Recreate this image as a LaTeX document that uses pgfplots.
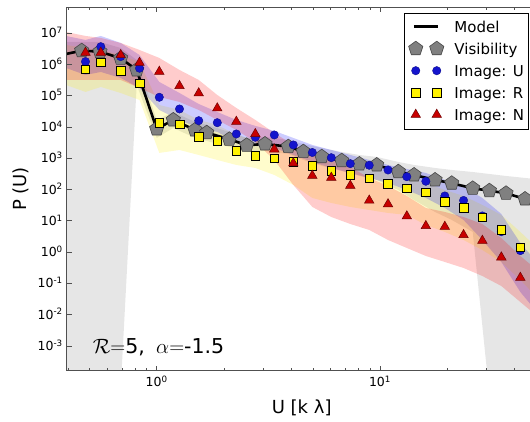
\documentclass[border=0pt]{standalone}
\usepackage{fontspec}
\setmainfont{DejaVu Sans}
\usepackage{pgfplots}
\pgfplotsset{compat=1.18}
\usepackage{pgfplotstable}
\usepgfplotslibrary{fillbetween}

\definecolor{visgray}{RGB}{128,128,128}
\definecolor{visedge}{RGB}{70,70,70}
\definecolor{udot}{RGB}{20,20,205}
\definecolor{ntri}{RGB}{200,0,0}
\definecolor{ntriedge}{RGB}{110,0,0}
\definecolor{spine}{RGB}{80,80,80}

% Visibility power spectrum: U [k lambda], model, measured points, band limits
\pgfplotstableread{
U      M      V      lo      hi
0.3845 2.10e6 nan    2.8e-5  5.27e6
0.4614 2.78e6 2.78e6 2.8e-5  5.27e6
0.5574 2.58e6 2.58e6 2.8e-5  5.27e6
0.6899 1.58e6 1.58e6 4.3e-5  3.39e6
0.8137 6.70e5 6.70e5 2.22e5  1.40e6
1.000  8.71e3 8.71e3 4.49e3  1.69e4
1.1866 1.69e4 1.69e4 9.37e3  3.04e4
1.4838 8.09e3 8.09e3 4.49e3  1.46e4
1.6744 6.62e3 6.62e3 3.60e3  1.17e4
2.1138 4.07e3 4.07e3 2.31e3  6.98e3
2.5293 2.62e3 2.62e3 1.60e3  4.49e3
3.0549 2.88e3 2.88e3 1.72e3  4.83e3
3.8860 2.37e3 2.37e3 1.38e3  3.87e3
4.5341 1.64e3 1.64e3 8.87e2  2.88e3
5.4828 1.13e3 1.13e3 5.70e2  2.15e3
6.7361 8.43e2 8.43e2 3.94e2  1.60e3
8.0798 6.61e2 6.61e2 2.73e2  1.28e3
9.6652 6.14e2 6.14e2 2.04e2  1.11e3
12.078 3.75e2 3.75e2 97.5    7.66e2
14.204 2.94e2 2.94e2 46.7    6.14e2
17.635 2.04e2 2.04e2 19.3    4.92e2
20.949 1.60e2 1.60e2 10.7    4.25e2
26.008 1.10e2 1.10e2 4.43    3.66e2
30.877 92.5   92.5   2.8e-5  3.16e2
36.67  76.4   76.4   2.8e-5  2.73e2
44.60  50.2   50.2   2.8e-5  2.36e2
53.7   37.4   nan    2.8e-5  2.04e2
}\vistab

% Image-plane estimates for the U, R and N maps, with their band limits
\pgfplotstableread{
U      u      ulo    uhi    r      rlo    rhi    n      nlo     nhi
0.3926 3.08e6 7.76e5 8.20e6 1.79e6 2.22e5 4.23e6 4.79e6 3.21e5  1.10e7
0.4799 1.24e6 4.63e5 6.11e6 7.06e5 1.33e5 3.39e6 2.40e6 3.21e5  8.20e6
0.5620 3.72e6 5.78e5 8.20e6 1.18e6 1.92e5 2.92e6 2.40e6 3.21e5  7.08e6
0.6899 1.79e6 3.72e5 4.90e6 6.37e5 1.23e5 2.02e6 2.02e6 3.21e5  4.90e6
0.8376 7.60e5 1.78e5 2.02e6 2.52e5 7.36e4 1.21e6 1.15e6 1.78e5  2.92e6
1.0272 8.97e4 3.52e4 2.77e5 1.38e4 1.49e3 5.09e4 5.92e5 9.19e4  1.62e6
1.2650 3.79e4 1.69e4 1.23e5 1.23e4 1.85e3 3.52e4 2.07e5 6.35e4  6.70e5
1.5423 1.60e4 9.37e3 5.48e4 4.93e3 1.28e3 1.69e4 1.21e5 3.52e4  3.21e5
1.8678 1.38e4 6.98e3 3.04e4 3.67e3 8.87e2 1.17e4 4.00e4 1.69e4  1.06e5
2.2728 6.03e3 3.34e3 1.69e4 1.72e3 6.14e2 5.60e3 1.49e4 8.09e3  4.08e4
2.7643 4.72e3 2.49e3 1.09e4 1.22e3 4.92e2 3.87e3 6.03e3 3.34e3  1.69e4
3.3619 5.60e3 2.15e3 7.52e3 1.01e3 2.94e2 2.68e3 1.95e3 8.87e2  6.49e3
4.0906 2.68e3 1.28e3 4.49e3 7.83e2 1.41e2 1.85e3 6.97e2 1.41e2  2.68e3
4.9753 1.54e3 7.66e2 2.68e3 5.83e2 54.1   1.28e3 2.79e2 27.9    1.49e3
6.0512 1.05e3 4.92e2 1.85e3 3.94e2 37.4   8.87e2 2.41e2 13.3    1.03e3
7.3621 6.76e2 3.40e2 1.28e3 2.94e2 27.9   7.11e2 1.34e2 7.96    5.30e2
8.9457 6.01e2 2.36e2 8.87e2 2.31e2 22.3   4.92e2 45.0   5.13    2.36e2
10.861 4.25e2 1.63e2 6.14e2 1.52e2 17.9   3.40e2 34.3   2.45    1.31e2
13.183 2.59e2 97.5   4.57e2 1.10e2 15.5   2.36e2 14.1   1.36    62.7
16.039 1.85e2 54.1   3.40e2 82.2   7.40   1.63e2 6.89   0.755   25.9
19.507 62.7   25.9   2.04e2 41.2   4.43   97.5   6.53   0.485   19.3
23.656 45.0   10.7   1.22e2 26.5   2.45   62.7   3.55   0.312   13.3
28.72  14.4   2.45   54.1   13.1   1.17   32.3   2.33   0.173   7.96
34.93  4.52   0.485  16.6   5.13   0.485  15.5   0.687  0.0828  2.84
42.49  1.12   0.0532 1.97   1.43   0.129  4.43   0.153  0.0255  0.755
51.7   nan    0.0098 0.385  nan    0.0298 1.17   nan    0.00785 0.233
}\imgtab

\pgfplotsset{
  twomarks/.style={legend image code/.code={
    \draw[##1] plot[only marks] coordinates {(2pt,5.5pt) (23pt,5.5pt)};}},
  lineleg/.style={legend image code/.code={
    \draw[##1] (0pt,5.5pt) -- (24pt,5.5pt);}},
}

\begin{document}
\begin{tikzpicture}
\begin{axis}[
  at={(0,0)}, anchor=south west,
  scale only axis, width=470pt, height=363.4pt,
  xmode=log, ymode=log,
  xmin=0.3954, xmax=50.3, ymin=1.62e-4, ymax=6.76e7,
  axis on top,
  clip marker paths=true,
  xtick={1,10},
  xticklabels={10\textsuperscript{0},10\textsuperscript{1}},
  minor xtick={0.4,0.5,0.6,0.7,0.8,0.9,2,3,4,5,6,7,8,9,20,30,40,50},
  ytick={1e-3,1e-2,1e-1,1,10,100,1e3,1e4,1e5,1e6,1e7},
  yticklabels={10\textsuperscript{-3},10\textsuperscript{-2},10\textsuperscript{-1},
    10\textsuperscript{0},10\textsuperscript{1},10\textsuperscript{2},10\textsuperscript{3},
    10\textsuperscript{4},10\textsuperscript{5},10\textsuperscript{6},10\textsuperscript{7}},
  yminorticks=false,
  tick align=inside,
  major tick length=5pt, minor tick length=2.7pt,
  major tick style={spine, line width=0.8pt},
  minor tick style={spine, line width=0.6pt},
  axis line style={spine, line width=1pt},
  xticklabel style={anchor=base, inner sep=0pt, yshift=-16pt, font=\fontsize{12.5}{15}\selectfont},
  yticklabel style={anchor=base east, inner sep=0pt, xshift=-3.7pt, yshift=-4.5pt, font=\fontsize{12.5}{15}\selectfont},
  xlabel={U [k λ]}, ylabel={P (U)},
  every axis x label/.style={at={(axis description cs:0.5,-0.1172)}, anchor=base, font=\fontsize{18}{21}\selectfont},
  every axis y label/.style={at={(axis description cs:-0.0845,0.5)}, rotate=90, anchor=base, font=\fontsize{18}{21}\selectfont},
  legend style={at={(axis description cs:0.9836,0.9835)}, anchor=north east,
    draw=black, line width=0.8pt, fill=white,
    inner xsep=4.5pt, inner ysep=5.5pt, row sep=5pt, column sep=10.6pt,
    font=\fontsize{15}{18}\selectfont,
    nodes={inner sep=0pt, text height=13pt, text depth=4pt, anchor=base west}},
  legend cell align=left,
]

% shaded bands
\addplot[draw=none, name path=vlo, forget plot] table[x=U,y=lo]{\vistab};
\addplot[draw=none, name path=vhi, forget plot] table[x=U,y=hi]{\vistab};
\addplot[fill=gray, fill opacity=0.2, draw=none, forget plot] fill between[of=vlo and vhi];

\addplot[draw=none, name path=rlo, forget plot] table[x=U,y=rlo]{\imgtab};
\addplot[draw=none, name path=rhi, forget plot] table[x=U,y=rhi]{\imgtab};
\addplot[fill=yellow, fill opacity=0.2, draw=none, forget plot] fill between[of=rlo and rhi];

\addplot[draw=none, name path=ulo, forget plot] table[x=U,y=ulo]{\imgtab};
\addplot[draw=none, name path=uhi, forget plot] table[x=U,y=uhi]{\imgtab};
\addplot[fill=blue, fill opacity=0.2, draw=none, forget plot] fill between[of=ulo and uhi];

\addplot[draw=none, name path=nlo, forget plot] table[x=U,y=nlo]{\imgtab};
\addplot[draw=none, name path=nhi, forget plot] table[x=U,y=nhi]{\imgtab};
\addplot[fill=red, fill opacity=0.2, draw=none, forget plot] fill between[of=nlo and nhi];

% model and measurements
\addplot[black, line width=2.6pt, line join=round, no marks, lineleg]
  table[x=U,y=M]{\vistab};
\addlegendentry{Model}

\addplot[only marks, mark=pentagon*, mark size=7.5pt, twomarks,
  mark options={fill=visgray, draw=visedge, line width=0.6pt}]
  table[x=U,y=V]{\vistab};
\addlegendentry{Visibility}

\addplot[only marks, mark=*, mark size=4.2pt, twomarks,
  mark options={fill=udot, draw=udot!70!black, line width=0.4pt}]
  table[x=U,y=u]{\imgtab};
\addlegendentry{Image: U}

\addplot[only marks, mark=square*, mark size=4.3pt, twomarks,
  mark options={fill=yellow, draw=black, line width=0.6pt}]
  table[x=U,y=r]{\imgtab};
\addlegendentry{Image: R}

\addplot[only marks, mark=triangle*, mark size=5.5pt, twomarks,
  mark options={fill=ntri, draw=ntriedge, line width=0.5pt}]
  table[x=U,y=n]{\imgtab};
\addlegendentry{Image: N}

\node[anchor=base west, inner sep=0pt, font=\fontsize{20.5}{24}\selectfont]
  at (axis description cs:0.0553,0.0479) {$\mathcal{R}{=}$5,\hspace{0.55em}$\alpha{=}$-1.5};
\end{axis}
\pgfresetboundingbox
\path[use as bounding box] (-66.7pt,-51.3pt) rectangle (463.3pt,370.7pt);
\end{tikzpicture}
\end{document}
